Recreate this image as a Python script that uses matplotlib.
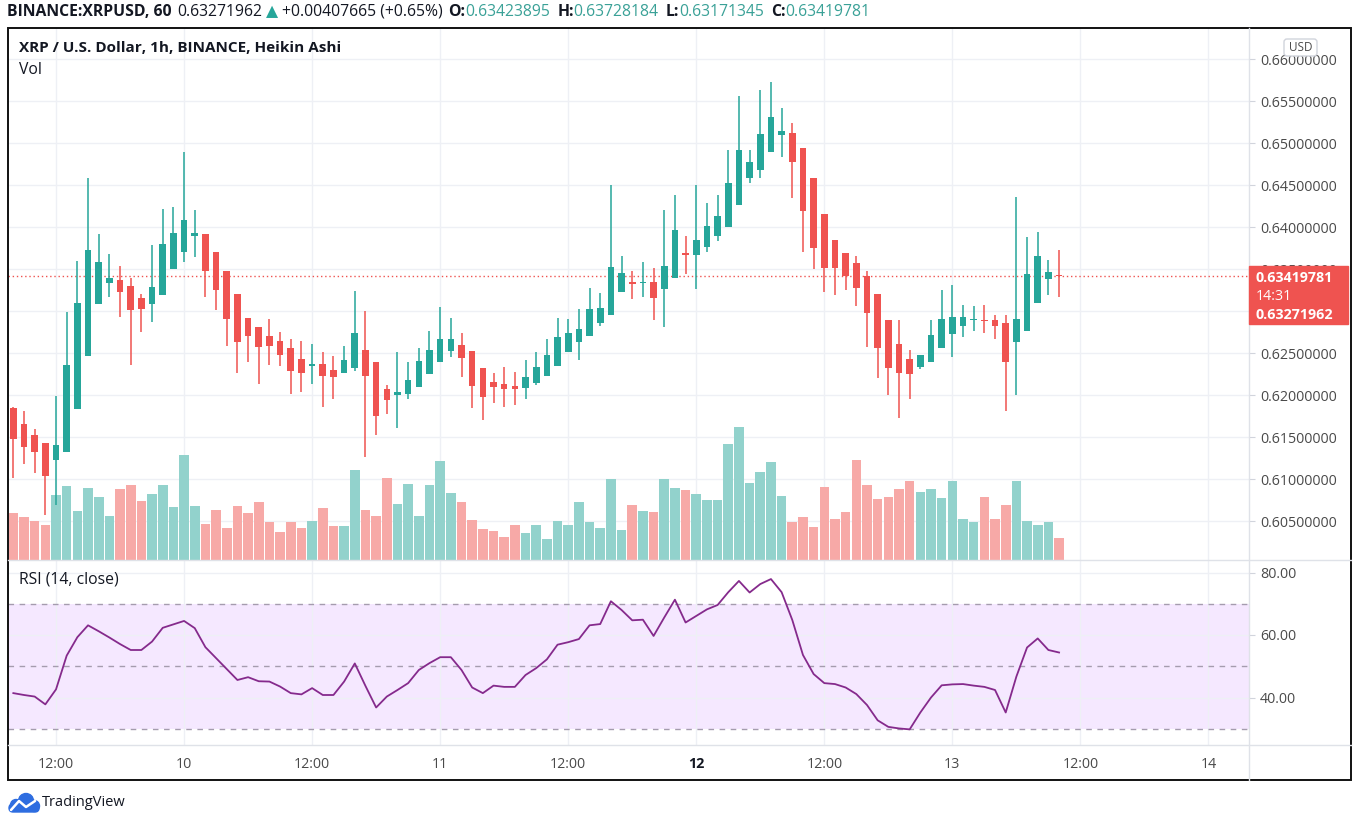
import matplotlib
matplotlib.use('Agg')
import matplotlib.pyplot as plt
import numpy as np
import pandas as pd
from matplotlib.patches import Rectangle, FancyBboxPatch, Circle
from matplotlib.transforms import blended_transform_factory

plt.rcParams['font.family'] = ['Open Sans', 'DejaVu Sans']

# ---------------- data (Heikin Ashi, 1h) ----------------
start_time = '2021-07-09 08:00'
opens = [0.6185, 0.6166, 0.6153, 0.6143, 0.6123, 0.6132, 0.6184, 0.6247, 0.6309, 0.6334,
         0.6337, 0.6330, 0.6316, 0.6309, 0.6319, 0.6350, 0.6371, 0.6389, 0.6392, 0.6371,
         0.6348, 0.6321, 0.6292, 0.6281, 0.6271, 0.6265, 0.6256, 0.6243, 0.6235, 0.6237,
         0.6230, 0.6226, 0.6233, 0.6254, 0.6240, 0.6208, 0.6200, 0.6202, 0.6210, 0.6225,
         0.6239, 0.6253, 0.6260, 0.6253, 0.6233, 0.6216, 0.6213, 0.6211, 0.6209, 0.6215,
         0.6223, 0.6235, 0.6252, 0.6263, 0.6271, 0.6286, 0.6295, 0.6323, 0.6335, 0.6333,
         0.6335, 0.6326, 0.6339, 0.6369, 0.6367, 0.6376, 0.6389, 0.6400, 0.6426, 0.6458,
         0.6468, 0.6489, 0.6510, 0.6512, 0.6494, 0.6458, 0.6416, 0.6385, 0.6369, 0.6357,
         0.6342, 0.6321, 0.6289, 0.6261, 0.6243, 0.6234, 0.6240, 0.6256, 0.6273, 0.6283,
         0.6289, 0.6290, 0.6289, 0.6286, 0.6263, 0.6277, 0.6310, 0.6338, 0.63423895]
highs = [0.6186, 0.6181, 0.6160, 0.6143, 0.6199, 0.6299, 0.6360, 0.6458, 0.6392, 0.6368,
         0.6354, 0.6339, 0.6321, 0.6379, 0.6422, 0.6424, 0.6490, 0.6420, 0.6392, 0.6371,
         0.6348, 0.6321, 0.6292, 0.6281, 0.6291, 0.6275, 0.6267, 0.6265, 0.6261, 0.6252,
         0.6247, 0.6259, 0.6324, 0.6300, 0.6240, 0.6212, 0.6252, 0.6239, 0.6256, 0.6276,
         0.6305, 0.6292, 0.6274, 0.6253, 0.6233, 0.6227, 0.6234, 0.6228, 0.6242, 0.6252,
         0.6267, 0.6292, 0.6291, 0.6303, 0.6328, 0.6322, 0.6450, 0.6366, 0.6348, 0.6358,
         0.6351, 0.6421, 0.6438, 0.6390, 0.6450, 0.6429, 0.6438, 0.6492, 0.6556, 0.6492,
         0.6563, 0.6573, 0.6542, 0.6524, 0.6494, 0.6458, 0.6416, 0.6385, 0.6369, 0.6366,
         0.6348, 0.6321, 0.6289, 0.6290, 0.6254, 0.6248, 0.6290, 0.6325, 0.6331, 0.6308,
         0.6306, 0.6308, 0.6296, 0.6296, 0.6436, 0.6388, 0.6394, 0.6361, 0.63728184]
lows = [0.6101, 0.6118, 0.6108, 0.6057, 0.6069, 0.6132, 0.6184, 0.6247, 0.6309, 0.6317,
        0.6293, 0.6236, 0.6275, 0.6287, 0.6319, 0.6350, 0.6359, 0.6364, 0.6317, 0.6302,
        0.6259, 0.6227, 0.6239, 0.6214, 0.6236, 0.6235, 0.6202, 0.6204, 0.6213, 0.6186,
        0.6195, 0.6226, 0.6229, 0.6127, 0.6153, 0.6178, 0.6161, 0.6196, 0.6210, 0.6225,
        0.6239, 0.6245, 0.6222, 0.6185, 0.6171, 0.6191, 0.6186, 0.6188, 0.6196, 0.6212,
        0.6223, 0.6235, 0.6252, 0.6242, 0.6271, 0.6283, 0.6295, 0.6323, 0.6315, 0.6317,
        0.6290, 0.6281, 0.6339, 0.6344, 0.6326, 0.6371, 0.6383, 0.6400, 0.6426, 0.6453,
        0.6459, 0.6489, 0.6484, 0.6435, 0.6370, 0.6350, 0.6323, 0.6319, 0.6325, 0.6306,
        0.6258, 0.6221, 0.6200, 0.6173, 0.6196, 0.6231, 0.6240, 0.6256, 0.6246, 0.6269,
        0.6277, 0.6274, 0.6267, 0.6181, 0.6200, 0.6277, 0.6310, 0.6319, 0.63171345]
closes = [0.6148, 0.6139, 0.6133, 0.6104, 0.6141, 0.6236, 0.6310, 0.6373, 0.6359, 0.6340,
          0.6323, 0.6302, 0.6303, 0.6329, 0.6380, 0.6393, 0.6408, 0.6393, 0.6348, 0.6325,
          0.6291, 0.6263, 0.6270, 0.6258, 0.6259, 0.6248, 0.6229, 0.6227, 0.6237, 0.6223,
          0.6222, 0.6242, 0.6274, 0.6223, 0.6175, 0.6194, 0.6204, 0.6218, 0.6241, 0.6254,
          0.6267, 0.6267, 0.6244, 0.6211, 0.6198, 0.6210, 0.6207, 0.6208, 0.6222, 0.6234,
          0.6248, 0.6269, 0.6274, 0.6279, 0.6303, 0.6304, 0.6353, 0.6346, 0.6332, 0.6335,
          0.6316, 0.6354, 0.6397, 0.6367, 0.6385, 0.6402, 0.6413, 0.6452, 0.6492, 0.6478,
          0.6511, 0.6531, 0.6515, 0.6477, 0.6419, 0.6375, 0.6352, 0.6351, 0.6342, 0.6328,
          0.6298, 0.6256, 0.6232, 0.6226, 0.6225, 0.6248, 0.6272, 0.6291, 0.6293, 0.6293,
          0.6291, 0.6288, 0.6283, 0.6240, 0.6291, 0.6344, 0.6366, 0.6347, 0.63419781]
volumes = [467, 433, 387, 353, 653, 743, 493, 723, 633, 443,
           713, 753, 593, 663, 753, 533, 1053, 543, 363, 503,
           323, 543, 473, 583, 383, 277, 380, 320, 387, 517,
           337, 337, 897, 500, 437, 817, 557, 757, 437, 747,
           987, 667, 577, 397, 307, 287, 227, 347, 267, 347,
           207, 387, 347, 583, 377, 317, 807, 297, 547, 487,
           477, 807, 717, 697, 657, 597, 597, 1157, 1327, 767,
           877, 977, 645, 385, 433, 333, 733, 413, 483, 1003,
           753, 613, 633, 713, 793, 683, 713, 623, 793, 413,
           383, 633, 413, 553, 793, 393, 353, 383, 223]
rsi = [41.4, 40.8, 40.3, 37.8, 42.6, 53.4, 59.3, 63.1, 61.2, 59.2,
       57.1, 55.2, 55.2, 57.9, 62.3, 63.4, 64.5, 62.2, 56.1, 52.6,
       49.1, 45.6, 46.5, 45.2, 45.1, 43.5, 41.4, 41.0, 43.0, 40.8,
       40.8, 45.1, 50.9, 43.7, 36.8, 40.3, 42.4, 44.6, 48.8, 51.0,
       52.9, 52.9, 48.8, 43.2, 41.4, 43.8, 43.4, 43.4, 47.2, 49.4,
       52.2, 56.9, 57.7, 58.7, 63.1, 63.5, 70.8, 68.0, 64.7, 64.9,
       59.7, 65.6, 71.3, 64.0, 66.1, 68.2, 69.6, 73.7, 77.3, 73.6,
       76.3, 77.9, 73.7, 64.8, 53.6, 47.5, 44.6, 44.3, 43.2, 41.1,
       37.6, 32.7, 30.6, 30.1, 29.8, 35.2, 40.0, 43.9, 44.2, 44.3,
       43.8, 43.4, 42.4, 35.2, 46.7, 56.0, 58.9, 55.2, 54.4]
price_ticks = [0.605, 0.610, 0.615, 0.620, 0.625, 0.630, 0.635, 0.640,
               0.645, 0.650, 0.655, 0.660]
hidden_price_ticks = [0.630]          # fully covered by the last-price label
rsi_ticks = [40, 60, 80]
rsi_bands = [30, 50, 70]
last_price = 0.63271962
change_txt = '+0.00407665 (+0.65%)'
countdown = '14:31'

# ---------------- styling ----------------
W, H = 1360, 827
UP, DOWN = '#26a69a', '#ef5350'
VUP, VDOWN = '#92d2cc', '#f7a9a7'
HDR_VAL = '#3aa197'
GRID = '#eef0f5'
SEP = '#dfe2e8'
TXT = '#131722'
AX_TXT = '#4a4a4a'

o = np.array(opens); h = np.array(highs); l = np.array(lows); c = np.array(closes)
n = len(c)
x = np.arange(n)
up = c >= o
cols = np.where(up, UP, DOWN)
vcols = np.where(up, VUP, VDOWN)

all_times = pd.date_range(start_time, periods=n + 18, freq='h')
tick_idx = [k for k, t in enumerate(all_times) if t.hour in (0, 12)]
tick_lab = [str(all_times[k].day) if all_times[k].hour == 0 else '12:00' for k in tick_idx]
XLIM = (-0.5, 115.8)


def box(x0, y0, x1, y1):
    return [x0 / W, 1 - y1 / H, (x1 - x0) / W, (y1 - y0) / H]


fig = plt.figure(figsize=(W / 100, H / 100), dpi=100)
fig.patch.set_facecolor('white')

# volume axis (behind) and price axis
vol_ax = fig.add_axes(box(8, 28, 1249, 560))
price_ax = fig.add_axes(box(8, 28, 1249, 560))
price_ax.patch.set_visible(False)

price_ax.set_xlim(*XLIM)
price_ax.set_ylim(0.6004, 0.6637)
vol_ax.set_xlim(*XLIM)
vol_ax.set_ylim(0, 5320)

for a in (vol_ax, price_ax):
    for s in a.spines.values():
        s.set_visible(False)

vol_ax.set_xticks(tick_idx)
vol_ax.tick_params(axis='x', length=0, labelbottom=False)
vol_ax.set_yticks([])
vol_ax.grid(axis='x', color=GRID, lw=1)
vol_ax.set_axisbelow(True)
vol_ax.hlines(price_ticks, 0, 1, colors=GRID, lw=1,
              transform=blended_transform_factory(vol_ax.transAxes, price_ax.transData), zorder=0)
vol_ax.bar(x, volumes, width=0.9, color=vcols, zorder=2)

# candles
price_ax.axhline(closes[-1], color=DOWN, ls=(0, (1, 2)), lw=1, zorder=1)
price_ax.vlines(x, l, h, colors=cols, lw=1.1, zorder=2)
body_h = np.maximum(np.abs(c - o), 0.00012)
price_ax.bar(x, body_h, bottom=np.minimum(o, c), width=0.62, color=cols, zorder=3)

price_ax.set_xticks([])
price_ax.yaxis.tick_right()
price_ax.set_yticks(price_ticks)
price_ax.set_yticklabels(['' if v in hidden_price_ticks else f'{v:.8f}' for v in price_ticks])
price_ax.tick_params(axis='y', length=4, color='#d1d4dc', labelsize=10.3,
                     labelcolor=AX_TXT, pad=4)

# RSI pane
rsi_ax = fig.add_axes(box(8, 560, 1249, 745))
rsi_ax.set_xlim(*XLIM)
rsi_ax.set_ylim(24.8, 84.0)
for s in rsi_ax.spines.values():
    s.set_visible(False)
rsi_ax.axhspan(rsi_bands[0], rsi_bands[-1], color='#f5e8ff', zorder=0, lw=0)
rsi_ax.set_xticks(tick_idx)
rsi_ax.set_xticklabels(tick_lab)
rsi_ax.grid(axis='x', color=GRID, lw=1)
rsi_ax.hlines(rsi_ticks, XLIM[0], XLIM[1], colors=GRID, lw=1, zorder=0.5)
rsi_ax.hlines(rsi_bands, XLIM[0], XLIM[1], colors='#a59cae', lw=1,
              linestyles=(0, (4, 4)), zorder=1)
rsi_ax.plot(x, rsi, color='#852a8c', lw=1.3, zorder=3)
rsi_ax.set_axisbelow(True)
rsi_ax.yaxis.tick_right()
rsi_ax.set_yticks(rsi_ticks)
rsi_ax.set_yticklabels([f'{v:.2f}' for v in rsi_ticks])
rsi_ax.tick_params(axis='y', length=4, color='#d1d4dc', labelsize=10.3,
                   labelcolor=AX_TXT, pad=4)
rsi_ax.tick_params(axis='x', length=0, labelsize=10.3, labelcolor=AX_TXT, pad=9)
for lbl in rsi_ax.get_xticklabels():
    if lbl.get_text() == '12':
        lbl.set_fontweight('bold')
        lbl.set_color(TXT)

# overlay in pixel coordinates
ov = fig.add_axes([0, 0, 1, 1])
ov.set_xlim(0, W)
ov.set_ylim(H, 0)
ov.axis('off')

ov.add_patch(Rectangle((8, 28), 1343, 752, fill=False, ec='#111111', lw=1.4))
ov.plot([1249, 1249], [28, 780], color=SEP, lw=1)
ov.plot([8, 1351], [560, 560], color=SEP, lw=1)
ov.plot([8, 1351], [745, 745], color=SEP, lw=1)

# last price label
ov.add_patch(Rectangle((1249, 266), 99, 58, color=DOWN, zorder=5))
ov.text(1256, 278, f'{closes[-1]:.8f}', color='white', fontsize=10.3, weight='bold', va='center', zorder=6)
ov.text(1256, 296, countdown, color='white', fontsize=10.3, va='center', zorder=6)
ov.text(1256, 315, f'{last_price:.8f}', color='white', fontsize=10.3, weight='bold', va='center', zorder=6)

# USD box
ov.add_patch(FancyBboxPatch((1284, 39), 33, 17, boxstyle='round,pad=0,rounding_size=3',
                            fc='white', ec='#d1d4dc', lw=1, zorder=5))
ov.text(1300.5, 47.5, 'USD', ha='center', va='center', fontsize=8.5, color=AX_TXT, zorder=6)

# titles
ov.text(19, 48, 'XRP / U.S. Dollar, 1h, BINANCE, Heikin Ashi', fontsize=11, weight='bold',
        color=TXT, va='center')
ov.text(19, 70, 'Vol', fontsize=11.3, color=TXT, va='center')
ov.text(19, 580, 'RSI (14, close)', fontsize=11.3, color=TXT, va='center')

# header line
pieces = [('BINANCE:XRPUSD, 60', 'bold', TXT, 0),
          (f'{last_price:.8f}', 'normal', TXT, 6),
          ('\u25B2', 'normal', UP, 3),
          (change_txt, 'normal', TXT, 4),
          ('O:', 'bold', TXT, 6), (f'{opens[-1]:.8f}', 'normal', HDR_VAL, 0),
          ('H:', 'bold', TXT, 7), (f'{highs[-1]:.8f}', 'normal', HDR_VAL, 0),
          ('L:', 'bold', TXT, 7), (f'{lows[-1]:.8f}', 'normal', HDR_VAL, 0),
          ('C:', 'bold', TXT, 7), (f'{closes[-1]:.8f}', 'normal', HDR_VAL, 0)]
prev = None
for s, wgt, col, gap in pieces:
    if prev is None:
        prev = ov.text(7, 12, s, fontsize=11.3, weight=wgt, color=col, va='center')
    else:
        prev = ov.annotate(s, xy=(1, 0), xycoords=prev, xytext=(gap, 0),
                           textcoords='offset pixels', va='bottom', ha='left',
                           fontsize=11.3, weight=wgt, color=col)

# TradingView logo (cloud icon)
LOGO = '#2e6de0'
ov.add_patch(Circle((16, 805), 5.5, color=LOGO))
ov.add_patch(Circle((26, 801), 7.5, color=LOGO))
ov.add_patch(Circle((34, 806), 5.5, color=LOGO))
ov.add_patch(FancyBboxPatch((9, 804), 30, 8, boxstyle='round,pad=0,rounding_size=4',
                            color=LOGO))
ov.plot([11, 19, 26, 35], [810, 801, 807, 801], color='white', lw=1.8,
        solid_capstyle='round', solid_joinstyle='round')
ov.text(42, 803, 'TradingView', fontsize=10.5, color=TXT, va='center')

fig.savefig('out.png', dpi=100, facecolor='white')
